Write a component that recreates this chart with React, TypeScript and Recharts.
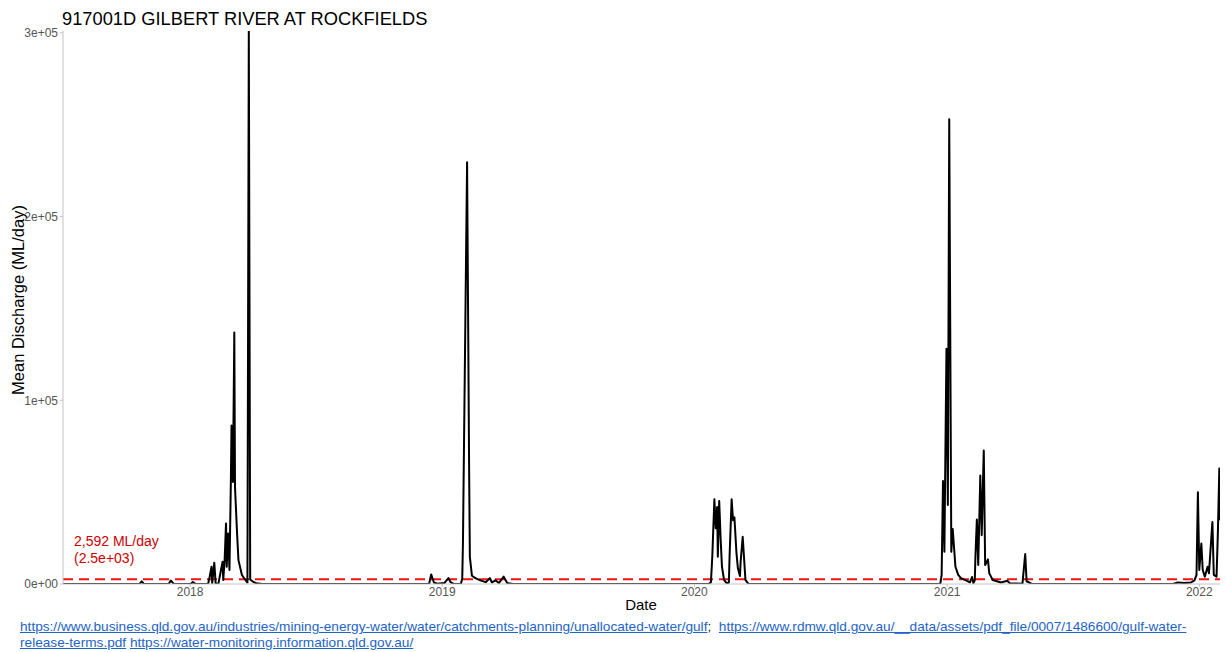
import React from 'react';
import { LineChart, Line, XAxis, YAxis, ReferenceLine } from 'recharts';

// daily mean discharge, turning points (ML/day)
const flowDates = [
  '2017-07-01', '2017-10-20', '2017-10-23', '2017-10-26', '2017-12-01', '2017-12-04', '2017-12-08',
  '2018-01-02', '2018-01-05', '2018-01-09', '2018-01-27', '2018-01-29', '2018-02-01', '2018-02-02',
  '2018-02-05', '2018-02-07', '2018-02-11', '2018-02-17', '2018-02-18', '2018-02-20', '2018-02-22',
  '2018-02-23', '2018-02-25', '2018-02-27', '2018-03-01', '2018-03-02', '2018-03-04', '2018-03-06',
  '2018-03-07', '2018-03-10', '2018-03-12', '2018-03-17', '2018-03-22', '2018-03-25', '2018-03-27',
  '2018-03-29', '2018-04-03', '2018-04-07', '2018-04-15', '2018-12-13', '2018-12-16', '2018-12-20',
  '2018-12-25', '2019-01-04', '2019-01-10', '2019-01-13', '2019-01-17', '2019-01-28', '2019-01-30',
  '2019-01-31', '2019-02-06', '2019-02-09', '2019-02-10', '2019-02-13', '2019-02-18', '2019-02-25',
  '2019-03-05', '2019-03-11', '2019-03-14', '2019-03-19', '2019-03-24', '2019-03-31', '2019-04-05',
  '2019-04-14', '2020-01-22', '2020-01-25', '2020-01-27', '2020-01-30', '2020-02-01', '2020-02-03',
  '2020-02-04', '2020-02-06', '2020-02-08', '2020-02-10', '2020-02-13', '2020-02-17', '2020-02-20',
  '2020-02-21', '2020-02-24', '2020-02-26', '2020-02-28', '2020-03-02', '2020-03-04', '2020-03-07',
  '2020-03-08', '2020-03-11', '2020-03-15', '2020-03-19', '2020-03-25', '2020-12-22', '2020-12-24',
  '2020-12-26', '2020-12-28', '2020-12-31', '2021-01-02', '2021-01-04', '2021-01-07', '2021-01-09',
  '2021-01-13', '2021-01-17', '2021-01-21', '2021-01-29', '2021-02-03', '2021-02-06', '2021-02-08',
  '2021-02-10', '2021-02-11', '2021-02-13', '2021-02-15', '2021-02-18', '2021-02-20', '2021-02-23',
  '2021-02-25', '2021-03-01', '2021-03-03', '2021-03-08', '2021-03-20', '2021-03-29', '2021-04-02',
  '2021-04-20', '2021-04-24', '2021-04-26', '2021-05-03', '2021-05-17', '2021-11-24', '2021-12-01',
  '2021-12-10', '2021-12-20', '2021-12-25', '2021-12-28', '2021-12-30', '2022-01-01', '2022-01-04',
  '2022-01-06', '2022-01-09', '2022-01-13', '2022-01-15', '2022-01-20', '2022-01-22', '2022-01-26',
  '2022-01-28', '2022-01-30', '2022-01-31',
];

const flowValues = [
  0, 0, 1400, 0, 0, 1900, 200,
  0, 1100, 0, 0, 3200, 9400, 500,
  11600, 300, 200, 12100, 2200, 13000, 32900,
  9400, 27500, 7600, 55500, 86300, 55500, 136900,
  52800, 27600, 13000, 4900, 2200, 800, 301000,
  2500, 1000, 400, 0, 0, 5200, 800,
  200, 500, 3200, 1000, 200, 0, 3000,
  22200, 229600, 60000, 14800, 4500, 3200, 2000,
  1000, 3200, 800, 2000, 500, 4000, 500,
  0, 0, 1000, 15000, 46100, 30400, 41900,
  14800, 45200, 25000, 9400, 2200, 300, 800,
  15000, 46100, 34700, 36300, 16800, 8700, 4300,
  12000, 25700, 2200, 200, 0, 0, 5000,
  56000, 17500, 128000, 43000, 253000, 17500, 30000,
  9400, 5000, 3200, 1800, 900, 3800, 500,
  2000, 15700, 35100, 10300, 59100, 26600, 72700,
  10300, 13400, 5800, 2200, 800, 1800, 300,
  200, 16300, 1500, 200, 0, 0, 800,
  500, 800, 2000, 5000, 50000, 7600, 22000,
  7600, 4000, 9400, 5800, 33800, 5000, 4000,
  29000, 62800, 34700,
];

const threshold = 2592;
const xTickDates = ['2018-01-01', '2019-01-01', '2020-01-01', '2021-01-01', '2022-01-01'];
const xTickLabels = ['2018', '2019', '2020', '2021', '2022'];
const yTicks = [0, 100000, 200000, 300000];
const yTickLabels = ['0e+00', '1e+05', '2e+05', '3e+05'];

const toTime = (s: string) => {
  const [y, m, d] = s.split('-').map(Number);
  return Date.UTC(y, m - 1, d);
};

const data = flowDates.map((d, i) => ({ t: toTime(d), v: flowValues[i] }));
const xTicks = xTickDates.map(toTime);

const font = '"Liberation Sans", Arial, Helvetica, sans-serif';
const tickStyle = { fill: '#555', fontSize: 12, fontFamily: font };
const linkColor = '#1e64c8';

export default function App() {
  return (
    <div
      style={{
        position: 'absolute',
        left: 0,
        top: 0,
        width: 1226,
        height: 652,
        background: '#fff',
        fontFamily: font,
        overflow: 'hidden',
      }}
    >
      <LineChart
        width={1226}
        height={652}
        data={data}
        margin={{ top: 31, right: 6, bottom: 38, left: 8 }}
      >
        <XAxis
          dataKey="t"
          type="number"
          domain={[toTime('2017-07-01'), toTime('2022-01-31')]}
          ticks={xTicks}
          tickFormatter={(v: number) => xTickLabels[xTicks.indexOf(v)] ?? ''}
          height={30}
          tick={tickStyle}
          tickSize={3}
          tickMargin={0}
          axisLine={{ stroke: '#c4c4c4' }}
          tickLine={{ stroke: '#c4c4c4' }}
          allowDataOverflow
        />
        <YAxis
          width={55}
          domain={[0, 301000]}
          ticks={yTicks}
          tickFormatter={(v: number) => yTickLabels[yTicks.indexOf(v)] ?? ''}
          tick={tickStyle}
          tickSize={3}
          tickMargin={2}
          axisLine={{ stroke: '#c4c4c4' }}
          tickLine={{ stroke: '#c4c4c4' }}
          allowDataOverflow
        />
        <ReferenceLine
          y={threshold}
          stroke="#f01414"
          strokeWidth={2}
          strokeDasharray="10 6"
        />
        <Line
          type="linear"
          dataKey="v"
          stroke="#000"
          strokeWidth={2}
          dot={false}
          strokeLinejoin="round"
          isAnimationActive={false}
        />
      </LineChart>

      <div style={{ position: 'absolute', left: 62, top: 8, fontSize: 18.3, color: '#000', whiteSpace: 'nowrap' }}>
        917001D GILBERT RIVER AT ROCKFIELDS
      </div>

      <div
        style={{
          position: 'absolute',
          left: 18,
          top: 300,
          fontSize: 16.5,
          color: '#000',
          whiteSpace: 'nowrap',
          transform: 'translate(-50%, -50%) rotate(-90deg)',
        }}
      >
        Mean Discharge (ML/day)
      </div>

      <div
        style={{
          position: 'absolute',
          left: 641,
          top: 604,
          fontSize: 15,
          color: '#000',
          transform: 'translate(-50%, -50%)',
        }}
      >
        Date
      </div>

      <div style={{ position: 'absolute', left: 74, top: 533, fontSize: 14, lineHeight: '17px', color: '#cd0000' }}>
        <div>2,592 ML/day</div>
        <div>(2.5e+03)</div>
      </div>

      <div style={{ position: 'absolute', left: 20, top: 619, fontSize: 13.65, lineHeight: '16px', color: linkColor, whiteSpace: 'nowrap' }}>
        <div>
          <span style={{ textDecoration: 'underline' }}>
            https://www.business.qld.gov.au/industries/mining-energy-water/water/catchments-planning/unallocated-water/gulf
          </span>
          <span style={{ color: '#222' }}>;&nbsp; </span>
          <span style={{ textDecoration: 'underline' }}>
            https://www.rdmw.qld.gov.au/__data/assets/pdf_file/0007/1486600/gulf-water-
          </span>
        </div>
        <div>
          <span style={{ textDecoration: 'underline' }}>release-terms.pdf</span>{' '}
          <span style={{ textDecoration: 'underline' }}>https://water-monitoring.information.qld.gov.au/</span>
        </div>
      </div>
    </div>
  );
}
